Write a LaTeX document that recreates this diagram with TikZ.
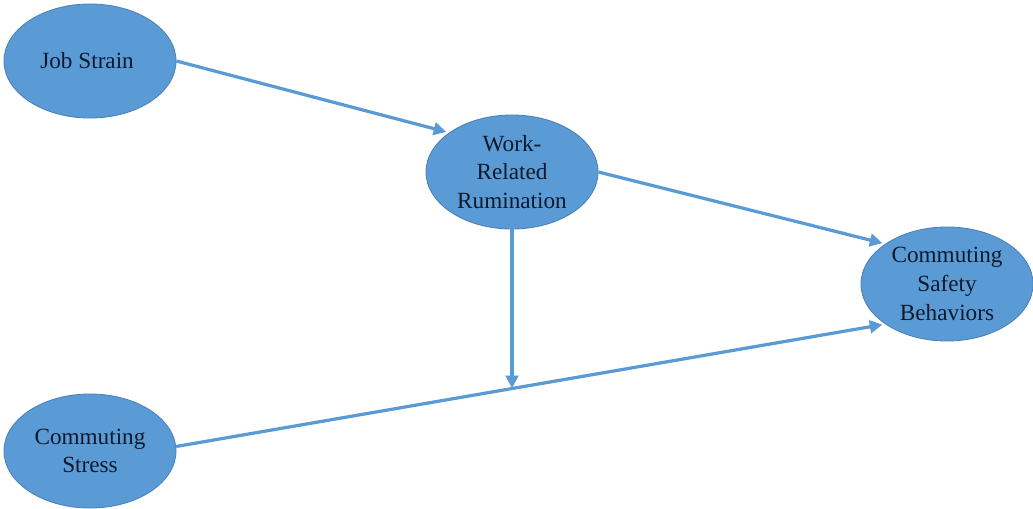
\documentclass[tikz,border=0pt]{standalone}
\usepackage{fontspec}
\setmainfont{Liberation Serif}
\usetikzlibrary{shapes.geometric,arrows.meta}

\definecolor{ovalblue}{HTML}{5B9BD5}
\definecolor{ovalline}{HTML}{4A80B8}
\definecolor{textdark}{HTML}{0E1A2B}

\tikzset{
    oval/.style={ellipse, draw=ovalline, fill=ovalblue, line width=0.6pt,
        minimum width=4.3cm, minimum height=2.85cm, inner sep=0pt,
        align=center, text=textdark,
        font=\fontsize{16.5}{20.5}\selectfont},
    link/.style={draw=ovalblue, line width=2.3pt,
        -{Triangle[length=9pt,width=9pt]}, shorten >=2pt},
}

\begin{document}
\begin{tikzpicture}[x=0.025cm,y=-0.025cm]

        \useasboundingbox (0,0) rectangle (1033,508);

        \node[oval] (JS) at (90, 61) { Job Strain };
        \node[oval] (WR) at (512, 172) { Work-\\Related\\Rumination };
        \node[oval] (CB) at (947, 284) { Commuting\\Safety\\Behaviors };
        \node[oval] (CS) at (90, 451) { Commuting\\Stress };

        \coordinate (M) at (512, 391);

        \draw[link] (JS.east) -- (WR.148);
        \draw[link] (WR.east) -- (CB.147);
        \draw[link] (CS.3) -- (CB.213);
        \draw[link] (WR.south) -- (M);

    \end{tikzpicture}
\end{document}
